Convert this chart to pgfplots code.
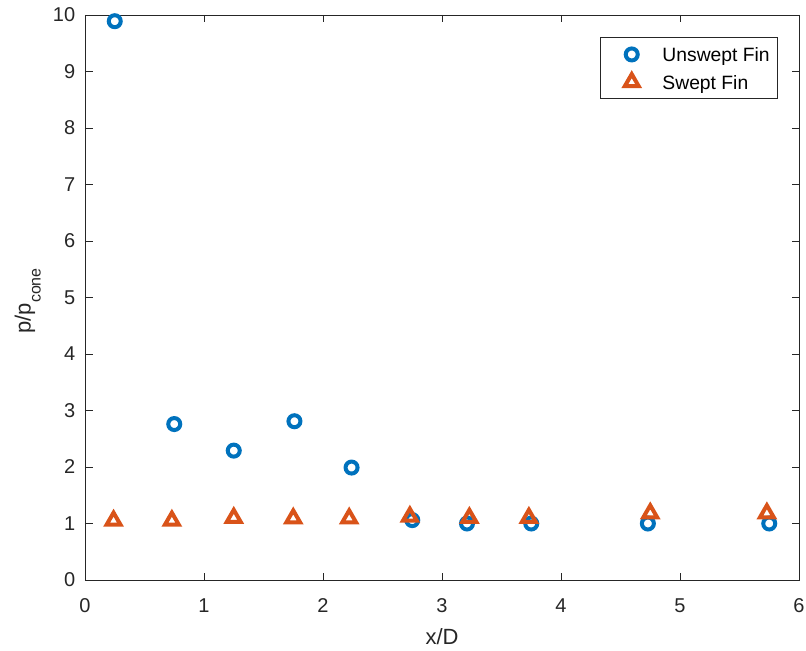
\documentclass[border=0pt]{standalone}
\usepackage{fontspec}
\setmainfont{Liberation Sans}
\usepackage{pgfplots}
\pgfplotsset{compat=1.18}
\definecolor{mblue}{rgb}{0,0.447,0.741}
\definecolor{morange}{rgb}{0.85,0.325,0.098}
\definecolor{axgray}{rgb}{0.15,0.15,0.15}
\begin{document}
\fontsize{20}{24}\selectfont
\begin{tikzpicture}
\begin{axis}[
  scale only axis, width=714pt, height=565pt,
  xmin=0, xmax=6, ymin=0, ymax=10,
  xtick={0,1,2,3,4,5,6}, ytick={0,1,2,3,4,5,6,7,8,9,10},
  tick align=inside, major tick length=7.5pt,
  axis line style={axgray, line width=0.8pt},
  tick style={axgray, line width=0.8pt},
  ticklabel style={font=\fontsize{20}{24}\selectfont, text=axgray},
  xticklabel style={anchor=base, yshift=-32pt},
  yticklabel style={anchor=east, xshift=-3pt},
  /pgf/number format/assume math mode=true,
  xlabel={x/D},
  ylabel={p/p\raisebox{-10pt}{\fontsize{16}{16}\selectfont cone}},
  label style={font=\fontsize{22}{26}\selectfont, text=axgray},
  xlabel style={at={(axis description cs:0.5,-0.1133)}, anchor=base},
  ylabel style={at={(axis description cs:-0.0763,0.494)}, anchor=base},
  legend image code/.code={
    \path[draw=none,fill=none] (-23pt,-13.85pt) (30.7pt,13.85pt);
    \draw[#1] plot coordinates {(0pt,0pt)};
  },
  legend style={at={(1,1)}, anchor=north east, xshift=-21pt, yshift=-22.5pt,
    draw=axgray, line width=0.6pt, font=\fontsize{19.3}{23}\selectfont,
    inner xsep=8pt, inner ysep=2.8pt, row sep=0pt, column sep=0pt,
    nodes={inner sep=0pt, text height=13.8pt, text depth=0pt}},
  legend cell align=left,
]
\addplot[only marks, mark=o, mark size=6pt, mblue, line width=4pt] coordinates {
(0.25,9.89) (0.75,2.76) (1.25,2.29) (1.76,2.81) (2.24,1.99)
(2.75,1.06) (3.21,1.00) (3.75,1.00) (4.73,1.00) (5.75,1.00)};
\addlegendentry{Unswept Fin}
\addplot[only marks, mark=triangle, mark size=8pt, morange, line width=4pt] coordinates {
(0.24,1.05) (0.73,1.05) (1.25,1.10) (1.75,1.09) (2.22,1.09)
(2.73,1.12) (3.23,1.10) (3.73,1.10) (4.75,1.18) (5.73,1.18)};
\addlegendentry{Swept Fin}
\end{axis}
\pgfresetboundingbox
\path ([shift={(-85pt,-70pt)}]current axis.south west) rectangle ([shift={(7pt,15pt)}]current axis.north east);
\end{tikzpicture}
\end{document}
